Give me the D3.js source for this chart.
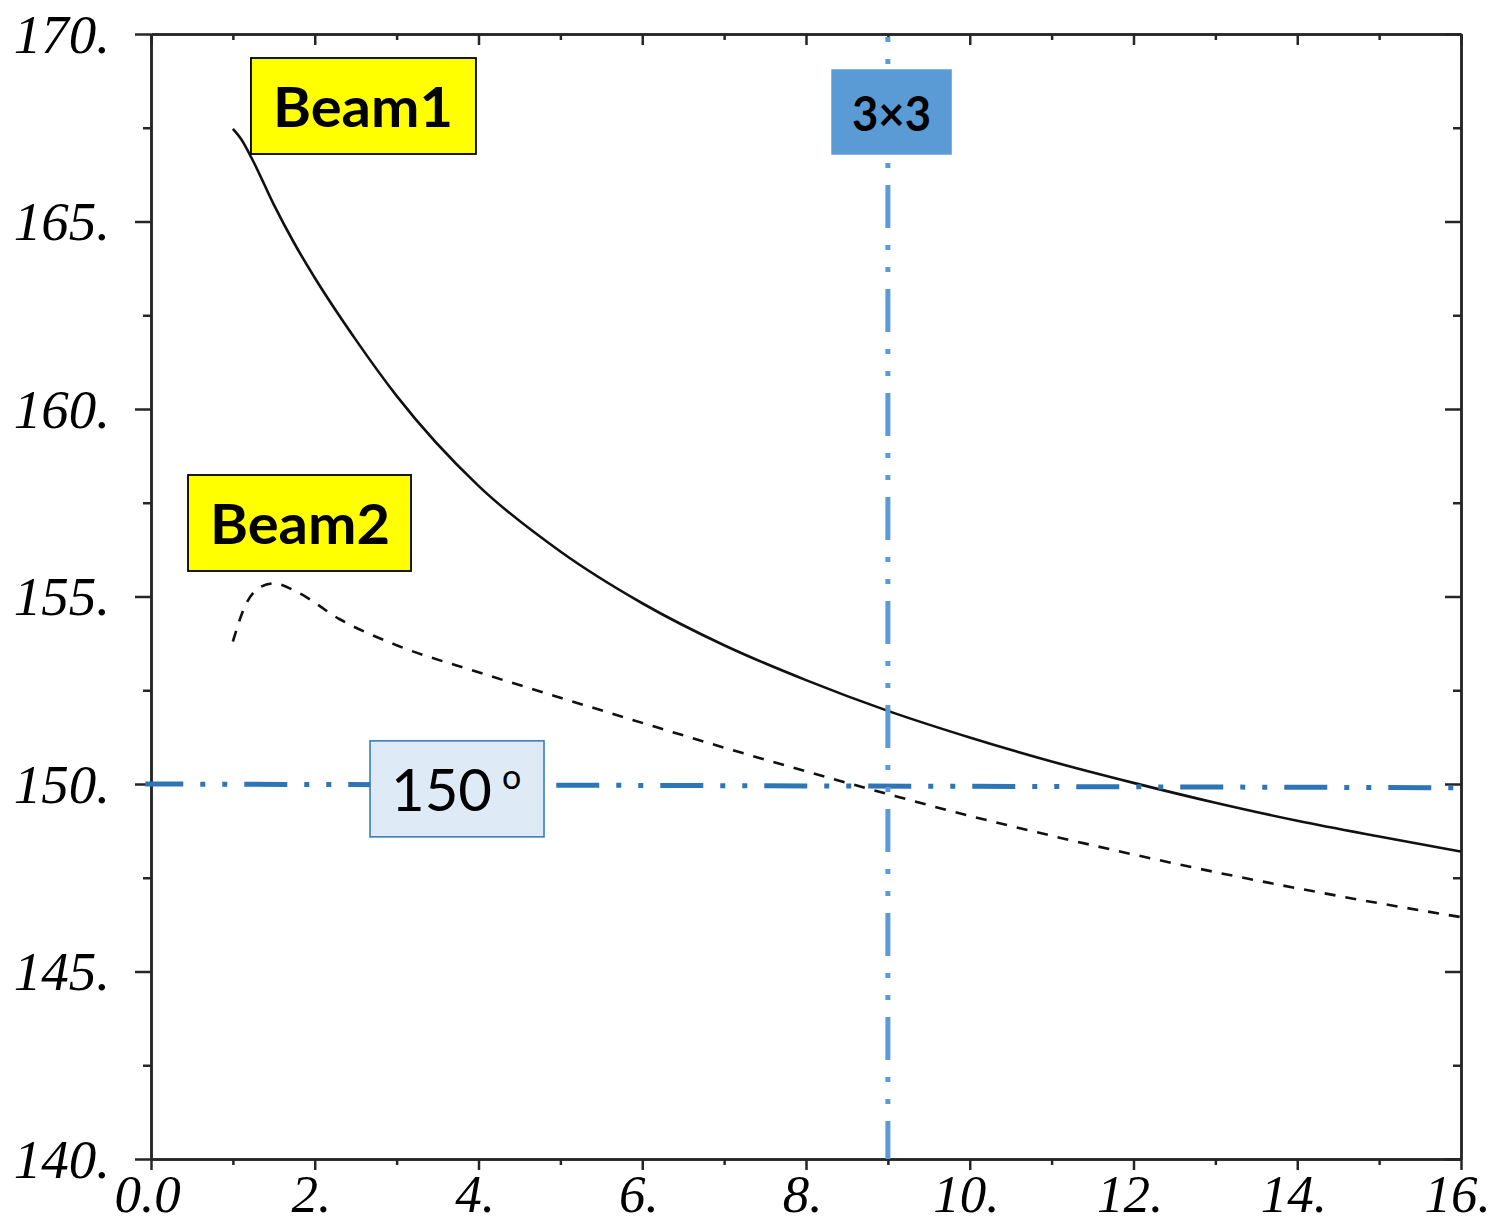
<!DOCTYPE html>
<html>
<head>
<meta charset="utf-8">
<script src="https://cdn.jsdelivr.net/npm/d3@7"></script>
<style>
  html, body { margin: 0; padding: 0; background: #fff; }
  svg { display: block; }
</style>
</head>
<body>
<svg id="chart" width="1501" height="1226"></svg>
<script>
// beam 1 (solid) and beam 2 (dashed)
let beam1X = [1.0, 1.1, 1.25, 1.5, 1.75, 2.0, 2.5, 3.0, 4.0, 5.0, 6.0, 7.0, 8.0, 9.0, 10.0, 11.0, 12.0, 13.0, 14.0, 15.0, 16.0];
let beam1Y = [167.47, 167.2, 166.6, 165.45, 164.42, 163.5, 161.85, 160.35, 157.95, 156.2, 154.82, 153.7, 152.77, 151.95, 151.24, 150.6, 150.03, 149.5, 149.02, 148.6, 148.2];

let beam2X = [1.0, 1.15, 1.3, 1.5, 1.8, 2.3, 3.0, 4.0, 5.0, 6.0, 7.0, 8.0, 9.0, 10.0, 11.0, 12.0, 13.0, 14.0, 15.0, 16.0];
let beam2Y = [153.8, 154.75, 155.2, 155.35, 155.1, 154.4, 153.7, 152.98, 152.3, 151.63, 150.97, 150.34, 149.73, 149.15, 148.62, 148.12, 147.65, 147.22, 146.82, 146.45];

// reference lines
let refLineX = [-0.07, 16];
let refLineY = [150.0, 149.9];
let gridLineX = 9.0;

// tick values
let xMajor = [0, 2, 4, 6, 8, 10, 12, 14, 16];
let xMinor = [1, 3, 5, 7, 9, 11, 13, 15];
let yMajor = [140, 145, 150, 155, 160, 165, 170];
let yMinor = [142.5, 147.5, 152.5, 157.5, 162.5, 167.5];

// annotation boxes: text and anchor (data coords of top-left corner)
let noteText = ["Beam1", "Beam2", "3\u00d73", "150 "];
let noteX = [1.221, 0.452, 8.318, 2.675];
let noteY = [169.36, 158.24, 169.04, 151.15];

let svg = d3.select("#chart");
let x = d3.scaleLinear().domain([0, 16]).range([151, 1461]);
let y = d3.scaleLinear().domain([140, 170]).range([1159, 34]);

let axisColor = "#262626";
let labelFont = "'Liberation Serif', 'DejaVu Serif', serif";

let styleAxis = (g) => {
  g.selectAll("path.domain").attr("stroke", axisColor).attr("stroke-width", 2.5);
  g.selectAll(".tick line").attr("stroke", axisColor).attr("stroke-width", 2.5);
};

let fmt = (d) => d === 0 ? "0.0" : d + ".";

// bottom
let bottomMinor = svg.append("g").attr("transform", "translate(0," + y(140) + ")")
  .call(d3.axisBottom(x).tickValues(xMinor).tickSize(6).tickSizeOuter(0).tickFormat(""));
let bottomMajor = svg.append("g").attr("transform", "translate(0," + y(140) + ")")
  .call(d3.axisBottom(x).tickValues(xMajor).tickSize(11).tickSizeOuter(0).tickFormat(fmt));
bottomMajor.selectAll("text")
  .attr("y", 53).attr("dy", 0).attr("dx", -4)
  .attr("font-family", labelFont).attr("font-style", "italic")
  .attr("font-size", 53).attr("fill", "#000");

// top (ticks inward)
let topMinor = svg.append("g").attr("transform", "translate(0," + y(170) + ")")
  .call(d3.axisTop(x).tickValues(xMinor).tickSize(-6).tickSizeOuter(0).tickFormat(""));
let topMajor = svg.append("g").attr("transform", "translate(0," + y(170) + ")")
  .call(d3.axisTop(x).tickValues(xMajor).tickSize(-11).tickSizeOuter(0).tickFormat(""));

// left
let leftMinor = svg.append("g").attr("transform", "translate(" + x(0) + ",0)")
  .call(d3.axisLeft(y).tickValues(yMinor).tickSize(8).tickSizeOuter(0).tickFormat(""));
let leftMajor = svg.append("g").attr("transform", "translate(" + x(0) + ",0)")
  .call(d3.axisLeft(y).tickValues(yMajor).tickSize(16).tickSizeOuter(0).tickFormat((d) => d + "."));
leftMajor.selectAll("text")
  .attr("x", -41).attr("y", 18).attr("dy", 0)
  .attr("font-family", labelFont).attr("font-style", "italic")
  .attr("font-size", 55).attr("fill", "#000");

// right (ticks inward)
let rightMinor = svg.append("g").attr("transform", "translate(" + x(16) + ",0)")
  .call(d3.axisRight(y).tickValues(yMinor).tickSize(-8).tickSizeOuter(0).tickFormat(""));
let rightMajor = svg.append("g").attr("transform", "translate(" + x(16) + ",0)")
  .call(d3.axisRight(y).tickValues(yMajor).tickSize(-16).tickSizeOuter(0).tickFormat(""));

[bottomMinor, bottomMajor, topMinor, topMajor, leftMinor, leftMajor, rightMinor, rightMajor].forEach(styleAxis);

// curves
let line = d3.line()
  .x((d) => x(d[0]))
  .y((d) => y(d[1]))
  .curve(d3.curveMonotoneX);

svg.append("path")
  .datum(d3.zip(beam1X, beam1Y))
  .attr("d", line)
  .attr("fill", "none")
  .attr("stroke", "#111")
  .attr("stroke-width", 2.6);

svg.append("path")
  .datum(d3.zip(beam2X, beam2Y))
  .attr("d", line)
  .attr("fill", "none")
  .attr("stroke", "#111")
  .attr("stroke-width", 2.6)
  .attr("stroke-dasharray", "11,10");

// blue dash-dot-dot reference lines
let dashDotDot = "43,17,5,17,5,17";

svg.append("path")
  .datum(d3.zip(refLineX, refLineY))
  .attr("d", d3.line().x((d) => x(d[0])).y((d) => y(d[1])))
  .attr("stroke", "#2E75B6")
  .attr("stroke-width", 5)
  .attr("stroke-dasharray", dashDotDot)
  .attr("stroke-dashoffset", 5);

svg.append("line")
  .attr("x1", x(gridLineX)).attr("x2", x(gridLineX))
  .attr("y1", y(170)).attr("y2", y(140))
  .attr("stroke", "#5B9BD5")
  .attr("stroke-width", 5)
  .attr("stroke-dasharray", dashDotDot)
  .attr("stroke-dashoffset", 57);

// annotation boxes
let boxFont = "Lato, 'Open Sans', sans-serif";
let boxW = [225, 223, 119, 174];
let boxH = [96, 96, 84, 96];
let boxFill = ["#FFFF00", "#FFFF00", "#5B9BD5", "#DEEBF7"];
let boxStroke = ["#000", "#000", "#5B9BD5", "#2E75B6"];

let notes = svg.selectAll("g.note")
  .data(noteText)
  .enter()
  .append("g")
  .attr("class", "note")
  .attr("transform", (d, i) => "translate(" + x(noteX[i]) + "," + y(noteY[i]) + ")");

notes.append("rect")
  .attr("width", (d, i) => boxW[i])
  .attr("height", (d, i) => boxH[i])
  .attr("fill", (d, i) => boxFill[i])
  .attr("stroke", (d, i) => boxStroke[i])
  .attr("stroke-width", (d, i) => i < 2 ? 1.8 : 1.5);

// Beam1 / Beam2
notes.filter((d, i) => i < 2)
  .append("text")
  .attr("x", 22)
  .attr("y", 69)
  .attr("font-family", boxFont)
  .attr("font-weight", "bold")
  .attr("font-size", 56)
  .attr("textLength", 180)
  .attr("lengthAdjust", "spacingAndGlyphs")
  .attr("fill", "#000")
  .text((d) => d);

// 3x3
notes.filter((d, i) => i === 2)
  .append("text")
  .attr("x", 20)
  .attr("y", 61)
  .attr("font-family", boxFont)
  .attr("font-weight", "bold")
  .attr("font-size", 48)
  .attr("textLength", 79)
  .attr("lengthAdjust", "spacingAndGlyphs")
  .attr("fill", "#000")
  .text((d) => d);

// 150 o
let t150 = notes.filter((d, i) => i === 3)
  .append("text")
  .attr("x", 21)
  .attr("y", 70)
  .attr("font-family", boxFont)
  .attr("font-size", 58)
  .attr("fill", "#000");
t150.append("tspan").text((d) => d.trim());
t150.append("tspan")
  .attr("x", 132)
  .attr("y", 48)
  .attr("font-size", 34)
  .text("o");
</script>
</body>
</html>
